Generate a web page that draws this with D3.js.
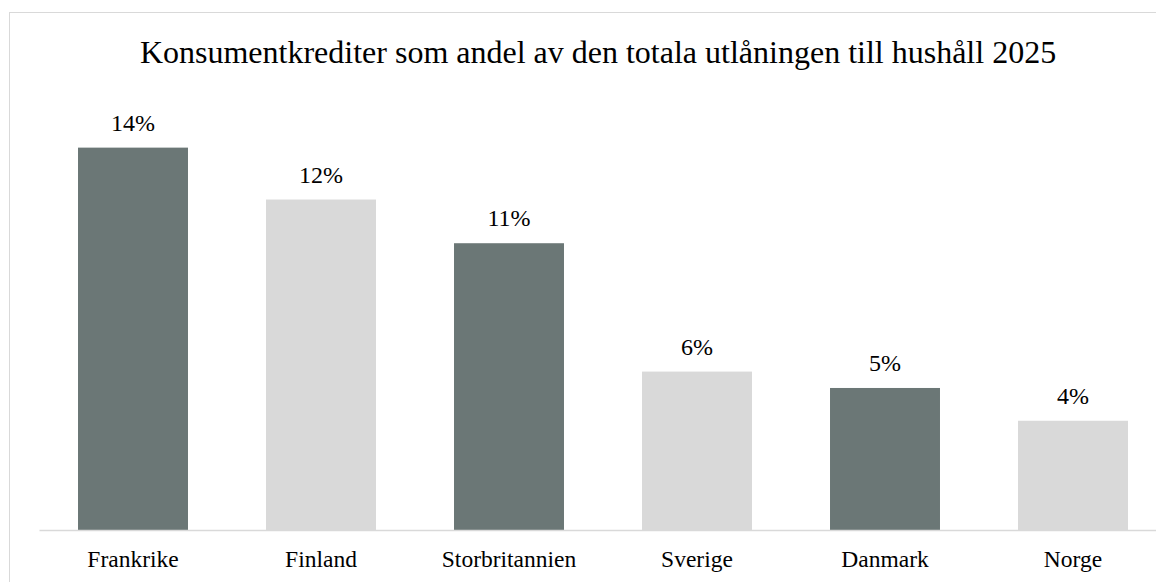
<!DOCTYPE html>
<meta charset="utf-8">
<html lang="sv">
<style>
body { margin: 0; background: #fff; overflow: hidden; }
.frame { fill: none; stroke: #d9d9d9; stroke-width: 1px; }
text, .title, .val, .axis text { font-family: "Liberation Serif", "Times New Roman", Times, serif; fill: #000; }
.title { font-size: 32px; }
.val { font-size: 24px; }
.axis text { font-size: 23.5px; }
</style>
<body>
<div id="chart"></div>
<script src="https://d3js.org/d3.v7.min.js"></script>
<script>
// land och andel (%) av total utlåning till hushåll
var countries = ["Frankrike", "Finland", "Storbritannien", "Sverige", "Danmark", "Norge"];
var shares = [14.0, 12.1, 10.5, 5.8, 5.2, 4.0];
var barColors = ["#6b7776", "#d9d9d9"];
var title = "Konsumentkrediter som andel av den totala utlåningen till hushåll 2025";

var width = 1156, height = 582;
var serif = "'Liberation Serif', 'Times New Roman', Times, serif";

var svg = d3.select("#chart").append("svg")
    .attr("width", width)
    .attr("height", height)
    .attr("font-family", serif);

// the chart frame runs past the right and bottom edge of the window
svg.append("rect").attr("class", "frame")
    .attr("x", 9.5).attr("y", 12.5)
    .attr("width", 1300).attr("height", 700);

svg.append("text").attr("class", "title")
    .attr("x", 598).attr("y", 63)
    .attr("text-anchor", "middle")
    .text(title);

var x = d3.scaleBand()
    .domain(countries)
    .range([39, 39 + 188 * countries.length])
    .paddingInner(0.415)
    .paddingOuter(0.2075);

var y = d3.scaleLinear()
    .domain([0, 16])
    .range([530, 93]);

svg.selectAll("rect.bar")
    .data(shares)
    .enter().append("rect")
    .attr("class", "bar")
    .attr("x", function(d, i) { return x(countries[i]); })
    .attr("y", function(d) { return y(d); })
    .attr("width", x.bandwidth())
    .attr("height", function(d) { return y(0) - y(d); })
    .attr("fill", function(d, i) { return barColors[i % 2]; });

svg.selectAll("text.val")
    .data(shares)
    .enter().append("text")
    .attr("class", "val")
    .attr("text-anchor", "middle")
    .attr("x", function(d, i) { return x(countries[i]) + x.bandwidth() / 2; })
    .attr("y", function(d) { return y(d) - 17; })
    .text(function(d) { return Math.round(d) + "%"; });

var axis = svg.append("g").attr("class", "axis")
    .attr("transform", "translate(0," + y(0) + ")")
    .call(d3.axisBottom(x).tickSize(0).tickPadding(20));
axis.select(".domain").attr("stroke", "#d9d9d9").attr("stroke-width", 1.5);
axis.selectAll("text").attr("dy", "0.71em");
</script>
</body>
</html>
